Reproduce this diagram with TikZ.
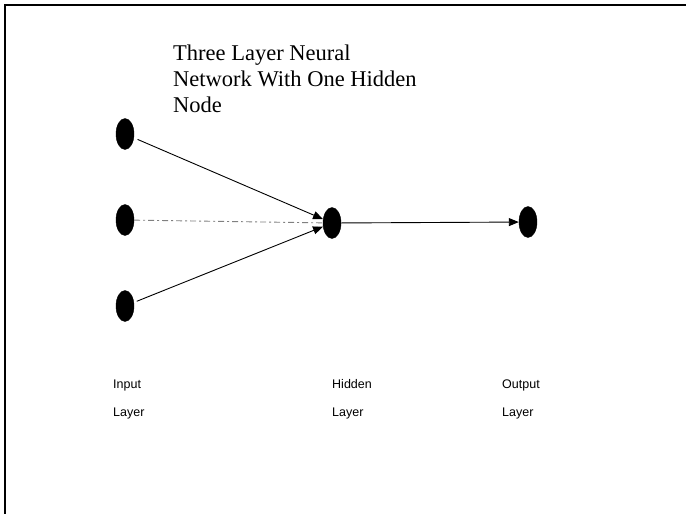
\documentclass[tikz,border=0pt]{standalone}
\usepackage{fontspec}
\setmainfont{Liberation Serif}
\newfontfamily\labelfont{Liberation Sans}
\usetikzlibrary{shapes.geometric,arrows.meta}
\tikzset{
  neuron/.style={ellipse,fill=black,draw=black,minimum width=18pt,minimum height=31pt,inner sep=0pt},
  conn/.style={line width=0.9pt,-{Triangle[length=10pt,width=8pt]}},
  faint/.style={line width=0.9pt,gray,dash pattern=on 6pt off 3pt on 2pt off 3pt},
  lbl/.style={anchor=base west,inner sep=0pt,font=\labelfont\fontsize{12.5}{14}\selectfont},
  frame/.style={line width=1.2pt}
}
\begin{document}
\begin{tikzpicture}[x=1pt,y=-1pt]
\useasboundingbox (0,0) rectangle (686,514);
\coordinate (tl) at (5,5);
\coordinate (tr) at (686,5);
\coordinate (bl) at (5,514);
\draw[frame] (tr) -- (tl) -- (bl);
\node[anchor=base west,inner sep=0pt,align=left,font=\fontsize{22.5}{26}\selectfont] (title) at (173,112)
  {Three Layer Neural\\Network With One Hidden\\Node};
\node[neuron] (i1) at (125,134) {};
\node[neuron] (i2) at (125,220) {};
\node[neuron] (i3) at (125,306) {};
\node[neuron] (h) at (332,223) {};
\node[neuron] (o) at (528,222) {};
\draw[conn,shorten <=4pt] (i1) -- (h);
\draw[conn,shorten <=3pt] (i3) -- (h);
\draw[faint] (i2) -- (h);
\draw[conn] (h) -- (o);
\node[lbl] (l1a) at (113,388) {Input};
\node[lbl] (l1b) at (113,416) {Layer};
\node[lbl] (l2a) at (332,388) {Hidden};
\node[lbl] (l2b) at (332,416) {Layer};
\node[lbl] (l3a) at (502,388) {Output};
\node[lbl] (l3b) at (502,416) {Layer};
\end{tikzpicture}
\end{document}
